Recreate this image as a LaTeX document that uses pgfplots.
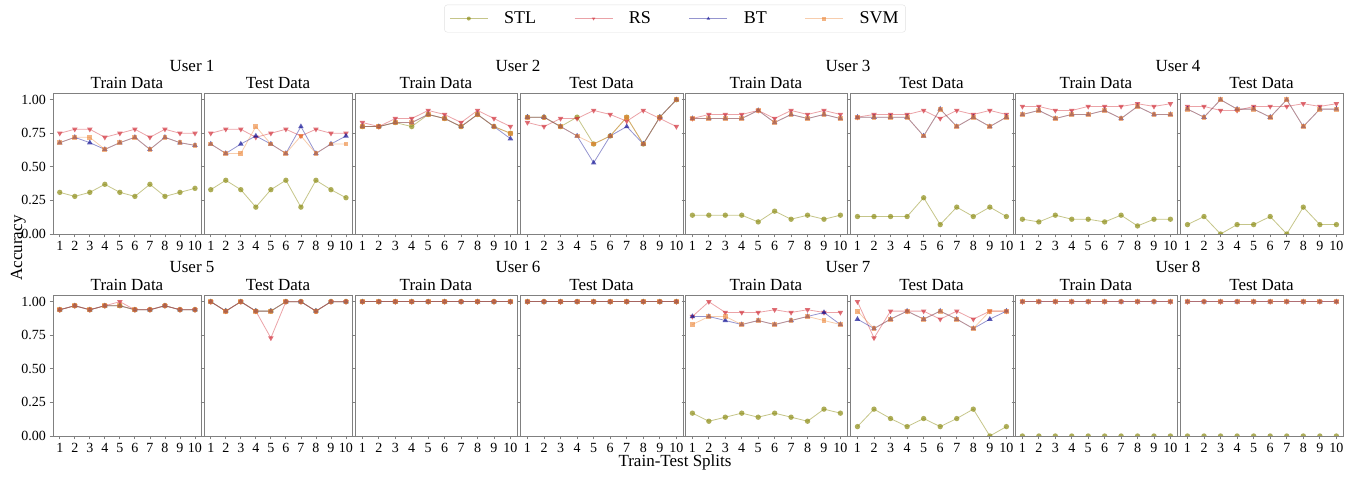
\documentclass[border=0pt]{standalone}
\usepackage{fontspec}
\setmainfont{Liberation Serif}
\usepackage{pgfplots}
\usepackage{pgfplotstable}
\pgfplotsset{compat=1.18}

\definecolor{stlc}{RGB}{140,140,20}
\definecolor{rsc}{RGB}{210,50,60}
\definecolor{btc}{RGB}{20,20,150}
\definecolor{svmc}{RGB}{235,130,50}

% x stl rs bt svm
\pgfplotstableread{
x stl rs bt svm
1 0.31 0.75 0.68 0.68
2 0.28 0.78 0.72 0.72
3 0.31 0.78 0.68 0.72
4 0.37 0.72 0.63 0.63
5 0.31 0.75 0.68 0.68
6 0.28 0.78 0.72 0.72
7 0.37 0.72 0.63 0.63
8 0.28 0.78 0.72 0.72
9 0.31 0.75 0.68 0.68
10 0.34 0.75 0.66 0.66
}\UaTr
\pgfplotstableread{
x stl rs bt svm
1 0.33 0.75 0.67 0.67
2 0.40 0.78 0.60 0.60
3 0.33 0.78 0.67 0.60
4 0.20 0.72 0.73 0.80
5 0.33 0.75 0.67 0.67
6 0.40 0.78 0.60 0.60
7 0.20 0.73 0.80 0.73
8 0.40 0.78 0.60 0.60
9 0.33 0.75 0.67 0.67
10 0.27 0.75 0.73 0.67
}\UaTe
\pgfplotstableread{
x stl rs bt svm
1 0.80 0.83 0.80 0.80
2 0.80 0.80 0.80 0.80
3 0.83 0.86 0.83 0.83
4 0.80 0.86 0.83 0.83
5 0.89 0.92 0.89 0.89
6 0.86 0.89 0.86 0.86
7 0.80 0.83 0.80 0.80
8 0.89 0.92 0.89 0.89
9 0.80 0.86 0.80 0.80
10 0.75 0.80 0.71 0.75
}\UbTr
\pgfplotstableread{
x stl rs bt svm
1 0.87 0.83 0.87 0.87
2 0.87 0.80 0.87 0.87
3 0.80 0.86 0.80 0.80
4 0.87 0.86 0.73 0.73
5 0.67 0.92 0.53 0.67
6 0.73 0.89 0.73 0.73
7 0.87 0.84 0.80 0.87
8 0.67 0.92 0.67 0.67
9 0.87 0.86 0.87 0.87
10 1.00 0.80 1.00 1.00
}\UbTe
\pgfplotstableread{
x stl rs bt svm
1 0.14 0.86 0.86 0.86
2 0.14 0.89 0.86 0.86
3 0.14 0.89 0.86 0.86
4 0.14 0.89 0.86 0.86
5 0.09 0.92 0.92 0.92
6 0.17 0.86 0.83 0.83
7 0.11 0.92 0.89 0.89
8 0.14 0.89 0.86 0.86
9 0.11 0.92 0.89 0.89
10 0.14 0.89 0.86 0.86
}\UcTr
\pgfplotstableread{
x stl rs bt svm
1 0.13 0.87 0.87 0.87
2 0.13 0.89 0.87 0.87
3 0.13 0.89 0.87 0.87
4 0.13 0.89 0.87 0.87
5 0.27 0.92 0.73 0.73
6 0.07 0.86 0.93 0.93
7 0.20 0.92 0.80 0.80
8 0.13 0.89 0.87 0.87
9 0.20 0.92 0.80 0.80
10 0.13 0.89 0.87 0.87
}\UcTe
\pgfplotstableread{
x stl rs bt svm
1 0.11 0.95 0.89 0.89
2 0.09 0.95 0.92 0.92
3 0.14 0.92 0.86 0.86
4 0.11 0.92 0.89 0.89
5 0.11 0.95 0.89 0.89
6 0.09 0.95 0.92 0.92
7 0.14 0.95 0.86 0.86
8 0.06 0.97 0.95 0.95
9 0.11 0.95 0.89 0.89
10 0.11 0.97 0.89 0.89
}\UdTr
\pgfplotstableread{
x stl rs bt svm
1 0.07 0.95 0.93 0.93
2 0.13 0.95 0.87 0.87
3 0.00 0.92 1.00 1.00
4 0.07 0.92 0.93 0.93
5 0.07 0.95 0.93 0.93
6 0.13 0.95 0.87 0.87
7 0.00 0.95 1.00 1.00
8 0.20 0.97 0.80 0.80
9 0.07 0.95 0.93 0.93
10 0.07 0.97 0.93 0.93
}\UdTe
\pgfplotstableread{
x stl rs bt svm
1 0.94 0.94 0.94 0.94
2 0.97 0.97 0.97 0.97
3 0.94 0.94 0.94 0.94
4 0.97 0.97 0.97 0.97
5 0.97 1.00 0.97 0.97
6 0.94 0.94 0.94 0.94
7 0.94 0.94 0.94 0.94
8 0.97 0.97 0.97 0.97
9 0.94 0.94 0.94 0.94
10 0.94 0.94 0.94 0.94
}\UeTr
\pgfplotstableread{
x stl rs bt svm
1 1.00 1.00 1.00 1.00
2 0.93 0.93 0.93 0.93
3 1.00 1.00 1.00 1.00
4 0.93 0.93 0.93 0.93
5 0.93 0.73 0.93 0.93
6 1.00 1.00 1.00 1.00
7 1.00 1.00 1.00 1.00
8 0.93 0.93 0.93 0.93
9 1.00 1.00 1.00 1.00
10 1.00 1.00 1.00 1.00
}\UeTe
\pgfplotstableread{
x stl rs bt svm
1 1.00 1.00 1.00 1.00
2 1.00 1.00 1.00 1.00
3 1.00 1.00 1.00 1.00
4 1.00 1.00 1.00 1.00
5 1.00 1.00 1.00 1.00
6 1.00 1.00 1.00 1.00
7 1.00 1.00 1.00 1.00
8 1.00 1.00 1.00 1.00
9 1.00 1.00 1.00 1.00
10 1.00 1.00 1.00 1.00
}\UfTr
\pgfplotstableread{
x stl rs bt svm
1 1.00 1.00 1.00 1.00
2 1.00 1.00 1.00 1.00
3 1.00 1.00 1.00 1.00
4 1.00 1.00 1.00 1.00
5 1.00 1.00 1.00 1.00
6 1.00 1.00 1.00 1.00
7 1.00 1.00 1.00 1.00
8 1.00 1.00 1.00 1.00
9 1.00 1.00 1.00 1.00
10 1.00 1.00 1.00 1.00
}\UfTe
\pgfplotstableread{
x stl rs bt svm
1 0.17 0.89 0.89 0.83
2 0.11 1.00 0.89 0.89
3 0.14 0.92 0.86 0.89
4 0.17 0.92 0.83 0.83
5 0.14 0.92 0.86 0.86
6 0.17 0.94 0.83 0.83
7 0.14 0.92 0.86 0.86
8 0.11 0.94 0.89 0.89
9 0.20 0.92 0.92 0.86
10 0.17 0.92 0.83 0.83
}\UgTr
\pgfplotstableread{
x stl rs bt svm
1 0.07 1.00 0.87 0.93
2 0.20 0.73 0.80 0.80
3 0.13 0.93 0.87 0.87
4 0.07 0.93 0.93 0.93
5 0.13 0.93 0.87 0.87
6 0.07 0.87 0.93 0.93
7 0.13 0.93 0.87 0.87
8 0.20 0.87 0.80 0.80
9 0.00 0.93 0.87 0.93
10 0.07 0.93 0.93 0.93
}\UgTe
\pgfplotstableread{
x stl rs bt svm
1 0.00 1.00 1.00 1.00
2 0.00 1.00 1.00 1.00
3 0.00 1.00 1.00 1.00
4 0.00 1.00 1.00 1.00
5 0.00 1.00 1.00 1.00
6 0.00 1.00 1.00 1.00
7 0.00 1.00 1.00 1.00
8 0.00 1.00 1.00 1.00
9 0.00 1.00 1.00 1.00
10 0.00 1.00 1.00 1.00
}\UhTr
\pgfplotstableread{
x stl rs bt svm
1 0.00 1.00 1.00 1.00
2 0.00 1.00 1.00 1.00
3 0.00 1.00 1.00 1.00
4 0.00 1.00 1.00 1.00
5 0.00 1.00 1.00 1.00
6 0.00 1.00 1.00 1.00
7 0.00 1.00 1.00 1.00
8 0.00 1.00 1.00 1.00
9 0.00 1.00 1.00 1.00
10 0.00 1.00 1.00 1.00
}\UhTe

\pgfplotsset{
  panel/.style={
    scale only axis, anchor=south west, height=141pt,
    xmin=0.55, xmax=10.4, ymin=0, ymax=1.05,
    xtick={1,...,10}, ytick={0,0.25,0.5,0.75,1},
    xtick pos=bottom, ytick pos=left, tick align=outside,
    major tick length=3.5pt,
    axis line style={black!50, line width=0.8pt},
    tick style={black!50, line width=0.8pt},
    ticklabel style={font=\fontsize{14}{14}\selectfont, black},
    /pgf/number format/assume math mode=true,
    yticklabel style={/pgf/number format/.cd, fixed, fixed zerofill, precision=2},
    every axis title shift=0pt,
    title style={font=\fontsize{17}{17}\selectfont, inner sep=0pt, yshift=4pt},
    clip marker paths=true,
  },
  stl/.style={color=stlc, line width=0.8pt, draw opacity=0.5, mark=*, mark size=2.7pt,
    mark options={draw opacity=0, fill opacity=0.7}},
  rs/.style={color=rsc, line width=0.8pt, draw opacity=0.45, mark=triangle*, mark size=3.2pt,
    mark options={rotate=180, draw opacity=0, fill opacity=0.7}},
  bt/.style={color=btc, line width=0.8pt, draw opacity=0.45, mark=triangle*, mark size=3.2pt,
    mark options={draw opacity=0, fill opacity=0.7}},
  svm/.style={color=svmc, line width=0.8pt, draw opacity=0.4, mark=square*, mark size=2.4pt,
    mark options={draw opacity=0, fill opacity=0.6}},
}

% #1 table, #2 x, #3 y, #4 width, #5 title, #6 extra options
\newcommand{\panel}[6]{%
  \begin{axis}[panel, at={(#2pt,#3pt)}, width=#4pt, title={#5}, #6]
    \addplot[stl] table[x=x, y=stl] {#1};
    \addplot[rs] table[x=x, y=rs] {#1};
    \addplot[bt] table[x=x, y=bt] {#1};
    \addplot[svm] table[x=x, y=svm] {#1};
  \end{axis}}

\begin{document}
\begin{tikzpicture}
\useasboundingbox (0pt,0pt) rectangle (1364pt,478pt);

\panel{\UaTr}{53}{244}{148}{Train Data}{
  legend entries={STL,RS,BT,SVM},
  legend style={at={(axis description cs:4.2027,1.528)}, anchor=center,
    draw=black!12, rounded corners=3pt, legend columns=4,
    font=\fontsize{18}{18}\selectfont, inner xsep=5pt, inner ysep=5pt,
    /tikz/every odd column/.append style={column sep=14pt},
    /tikz/every even column/.append style={column sep=36pt}},
  legend image code/.code={\draw[mark repeat=2, mark phase=2, #1, mark size=2pt]
    plot coordinates {(0pt,0pt) (19pt,0pt) (38pt,0pt)};}}
\panel{\UaTe}{204}{244}{148}{Test Data}{yticklabels={}}
\panel{\UbTr}{355}{244}{162}{Train Data}{yticklabels={}}
\panel{\UbTe}{520}{244}{163}{Test Data}{yticklabels={}}
\panel{\UcTr}{685}{244}{162}{Train Data}{yticklabels={}}
\panel{\UcTe}{850}{244}{163}{Test Data}{yticklabels={}}
\panel{\UdTr}{1015}{244}{162}{Train Data}{yticklabels={}}
\panel{\UdTe}{1180}{244}{163}{Test Data}{yticklabels={}}

\panel{\UeTr}{53}{42}{148}{Train Data}{}
\panel{\UeTe}{204}{42}{148}{Test Data}{yticklabels={}}
\panel{\UfTr}{355}{42}{162}{Train Data}{yticklabels={}}
\panel{\UfTe}{520}{42}{163}{Test Data}{yticklabels={}}
\panel{\UgTr}{685}{42}{162}{Train Data}{yticklabels={}}
\panel{\UgTe}{850}{42}{163}{Test Data}{yticklabels={}}
\panel{\UhTr}{1015}{42}{162}{Train Data}{yticklabels={}}
\panel{\UhTe}{1180}{42}{163}{Test Data}{yticklabels={}}

\begin{scope}[every node/.style={font=\fontsize{17}{17}\selectfont, anchor=base, inner sep=0pt}]
\node at (192pt,406pt) {User 1};
\node at (518pt,406pt) {User 2};
\node at (848pt,406pt) {User 3};
\node at (1178pt,406pt) {User 4};
\node at (192pt,205pt) {User 5};
\node at (518pt,205pt) {User 6};
\node at (848pt,205pt) {User 7};
\node at (1178pt,205pt) {User 8};
\node at (675pt,11pt) {Train-Test Splits};
\node[rotate=90] at (22pt,230pt) {Accuracy};
\end{scope}
\end{tikzpicture}
\end{document}
